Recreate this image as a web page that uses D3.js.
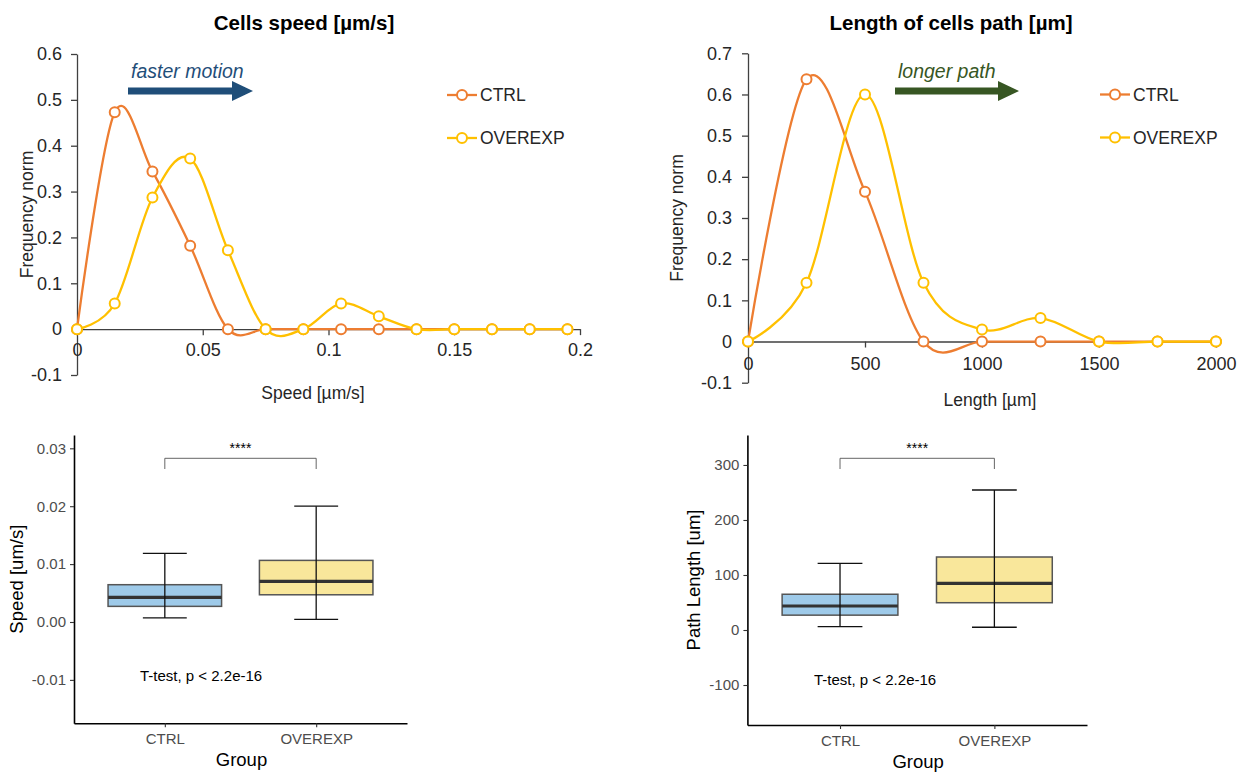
<!DOCTYPE html>
<html>
<head>
<meta charset="utf-8">
<script src="https://cdn.jsdelivr.net/npm/d3@7"></script>
<style>
  body { margin: 0; background: #fff; }
  svg { font-family: "Liberation Sans", Arial, sans-serif; }
</style>
</head>
<body>
<svg id="chart" width="1243" height="772"></svg>
<script>
// histogram bins (frequency normalised)
const speedBins = [0, 0.015, 0.03, 0.045, 0.06, 0.075, 0.09, 0.105, 0.12, 0.135, 0.15, 0.165, 0.18, 0.195];
const speedCtrl = [0, 0.473, 0.344, 0.182, 0, 0, 0, 0, 0, 0, 0, 0, 0, 0];
const speedOverexp = [0, 0.056, 0.287, 0.372, 0.172, 0, 0, 0.056, 0.028, 0, 0, 0, 0, 0];
const speedTicksX = [0, 0.05, 0.1, 0.15, 0.2];
const speedTicksY = [-0.1, 0, 0.1, 0.2, 0.3, 0.4, 0.5, 0.6];

const lengthBins = [0, 250, 500, 750, 1000, 1250, 1500, 1750, 2000];
const lengthCtrl = [0, 0.637, 0.364, 0, 0, 0, 0, 0, 0];
const lengthOverexp = [0, 0.143, 0.600, 0.143, 0.029, 0.057, 0, 0, 0];
const lengthTicksX = [0, 500, 1000, 1500, 2000];
const lengthTicksY = [-0.1, 0, 0.1, 0.2, 0.3, 0.4, 0.5, 0.6, 0.7];

// boxplots: [min, q1, median, q3, max]
const groups = ["CTRL", "OVEREXP"];
const speedBoxCtrl = [0.0007, 0.0027, 0.00425, 0.00644, 0.01185];
const speedBoxOverexp = [0.00045, 0.0047, 0.0070, 0.01064, 0.0200];
const speedBoxTicks = [-0.01, 0, 0.01, 0.02, 0.03];
const lengthBoxCtrl = [6, 27, 43.6, 65, 121];
const lengthBoxOverexp = [5, 49.6, 84.8, 132.7, 254.5];
const lengthBoxTicks = [-100, 0, 100, 200, 300];

const orange = "#ED7D31";
const yellow = "#FFC000";
const boxFill = { CTRL: "#9ECAE9", OVEREXP: "#F9E79B" };

const svg = d3.select("#chart");

function arrowPath(x0, x1, yc) {
  const p = [[x0, yc - 3.5], [x1 - 21, yc - 3.5], [x1 - 21, yc - 10], [x1, yc],
             [x1 - 21, yc + 10], [x1 - 21, yc + 3.5], [x0, yc + 3.5]];
  return "M" + p.map(d => d.join(",")).join("L") + "Z";
}

function densityChart(c) {
  const g = svg.append("g");
  const x = d3.scaleLinear().domain(c.xDomain).range(c.xRange);
  const y = d3.scaleLinear().domain(c.yDomain).range(c.yRange);

  const yAxis = g.append("g")
    .attr("transform", `translate(${c.xRange[0]},0)`)
    .call(d3.axisLeft(y).tickValues(c.yTicks).tickFormat(d => String(d))
      .tickSize(6).tickSizeOuter(0).tickPadding(c.yPad));
  const xAxis = g.append("g")
    .attr("transform", `translate(0,${y(0)})`)
    .call(d3.axisBottom(x).tickValues(c.xTicks).tickFormat(d => String(d))
      .tickSize(6).tickSizeOuter(0).tickPadding(c.xPad));
  [yAxis, xAxis].forEach(a => {
    a.select(".domain").attr("stroke", "#404040").attr("stroke-width", 1.3);
    a.selectAll(".tick line").attr("stroke", "#404040").attr("stroke-width", 1.3);
    a.selectAll("text").attr("font-size", 18).attr("fill", "#262626")
      .attr("font-family", "Liberation Sans, Arial, sans-serif");
  });

  const line = d3.line().x((d, i) => x(c.bins[i])).y(d => y(d)).curve(d3.curveCardinal.tension(0));
  const series = [
    { name: "CTRL", values: c.ctrl, color: orange },
    { name: "OVEREXP", values: c.overexp, color: yellow }
  ];
  series.forEach(s => {
    g.append("path").datum(s.values).attr("d", line)
      .attr("fill", "none").attr("stroke", s.color).attr("stroke-width", 2.3);
    g.selectAll(null).data(s.values).enter().append("circle")
      .attr("cx", (d, i) => x(c.bins[i])).attr("cy", d => y(d)).attr("r", 5)
      .attr("fill", "#fff").attr("stroke", s.color).attr("stroke-width", 2);
  });

  // legend
  series.forEach((s, i) => {
    const ly = c.legendY + i * 43;
    g.append("line").attr("x1", c.legendX).attr("x2", c.legendX + 30)
      .attr("y1", ly).attr("y2", ly).attr("stroke", s.color).attr("stroke-width", 2.3);
    g.append("circle").attr("cx", c.legendX + 15).attr("cy", ly).attr("r", 5)
      .attr("fill", "#fff").attr("stroke", s.color).attr("stroke-width", 2);
    g.append("text").attr("x", c.legendX + 33).attr("y", ly + 6)
      .attr("font-size", 17.5).attr("fill", "#262626").text(s.name);
  });

  // titles
  g.append("text").attr("x", c.titleX).attr("y", 30).attr("text-anchor", "middle")
    .attr("font-size", 20.5).attr("font-weight", "bold").attr("fill", "#000").text(c.title);
  g.append("text").attr("x", c.titleX + c.xLabelDx).attr("y", c.xLabelY).attr("text-anchor", "middle")
    .attr("font-size", 17.5).attr("fill", "#262626").text(c.xLabel);
  g.append("text")
    .attr("transform", `translate(${c.yLabelX},${(c.yRange[0] + c.yRange[1]) / 2}) rotate(-90)`)
    .attr("text-anchor", "middle").attr("font-size", 17.5).attr("fill", "#262626")
    .text("Frequency norm");

  // annotation arrow
  g.append("text").attr("x", c.arrow[0] + 3).attr("y", 78).attr("font-size", 19.5)
    .attr("font-style", "italic").attr("fill", c.arrowColor).text(c.arrowText);
  g.append("path").attr("d", arrowPath(c.arrow[0], c.arrow[1], 91)).attr("fill", c.arrowColor);
}

densityChart({
  bins: speedBins, ctrl: speedCtrl, overexp: speedOverexp,
  xDomain: [0, 0.2], xRange: [77, 580], yDomain: [-0.1, 0.6], yRange: [375, 54],
  xTicks: speedTicksX, yTicks: speedTicksY, xPad: 8, yPad: 9,
  legendX: 447, legendY: 95,
  title: "Cells speed [µm/s]", titleX: 304, xLabel: "Speed [µm/s]", xLabelDx: 9, xLabelY: 399,
  yLabelX: 33, arrow: [128, 253], arrowColor: "#1F4E79", arrowText: "faster motion"
});

densityChart({
  bins: lengthBins, ctrl: lengthCtrl, overexp: lengthOverexp,
  xDomain: [0, 2000], xRange: [748, 1216], yDomain: [-0.1, 0.7], yRange: [382.7, 53.3],
  xTicks: lengthTicksX, yTicks: lengthTicksY, xPad: 10, yPad: 10,
  legendX: 1100, legendY: 94.5,
  title: "Length of cells path [µm]", titleX: 951, xLabel: "Length [µm]", xLabelDx: 39, xLabelY: 406,
  yLabelX: 683, arrow: [895, 1019], arrowColor: "#375623", arrowText: "longer path"
});

const dash = d3.formatLocale({ decimal: ".", thousands: ",", grouping: [3], currency: ["", ""], minus: "-" });

function boxChart(c) {
  const g = svg.append("g");
  const x = d3.scalePoint().domain(groups).range(c.xRange).padding(0.6);
  const y = d3.scaleLinear().domain(c.yDomain).range(c.yRange);
  const step = x.step();

  const yAxis = g.append("g").attr("transform", `translate(${c.xRange[0]},0)`)
    .call(d3.axisLeft(y).tickValues(c.yTicks).tickFormat(dash.format(c.fmt))
      .tickSize(4).tickSizeOuter(0).tickPadding(4));
  const xAxis = g.append("g").attr("transform", `translate(0,${c.yRange[0]})`)
    .call(d3.axisBottom(x).tickSize(4).tickSizeOuter(0).tickPadding(6));
  [yAxis, xAxis].forEach(a => {
    a.select(".domain").attr("stroke", "#000").attr("stroke-width", 1.6);
    a.selectAll(".tick line").attr("stroke", "#333").attr("stroke-width", 1.1);
    a.selectAll("text").attr("font-size", 15).attr("fill", "#4D4D4D")
      .attr("font-family", "Liberation Sans, Arial, sans-serif");
  });

  c.stats.forEach((s, i) => {
    const cx = x(groups[i]);
    const bw = step * 0.75, ew = step * 0.29;
    g.append("rect").attr("x", cx - bw / 2).attr("width", bw)
      .attr("y", y(s[3])).attr("height", y(s[1]) - y(s[3]))
      .attr("fill", boxFill[groups[i]]).attr("stroke", "#555").attr("stroke-width", 1.5);
    g.append("line").attr("x1", cx - bw / 2).attr("x2", cx + bw / 2)
      .attr("y1", y(s[2])).attr("y2", y(s[2])).attr("stroke", "#333").attr("stroke-width", 3.2);
    g.append("line").attr("x1", cx).attr("x2", cx).attr("y1", y(s[0])).attr("y2", y(s[4]))
      .attr("stroke", "#111").attr("stroke-width", 1.3);
    [s[0], s[4]].forEach(v => {
      g.append("line").attr("x1", cx - ew / 2).attr("x2", cx + ew / 2)
        .attr("y1", y(v)).attr("y2", y(v)).attr("stroke", "#111").attr("stroke-width", 1.3);
    });
  });

  // significance bracket
  const x0 = x(groups[0]), x1 = x(groups[1]);
  g.append("path").attr("d", `M${x0},469V458.3H${x1}V469`)
    .attr("fill", "none").attr("stroke", "#555").attr("stroke-width", 0.9);
  g.append("text").attr("x", (x0 + x1) / 2).attr("y", 453).attr("text-anchor", "middle")
    .attr("font-size", 14).attr("fill", "#000").text("****");

  g.append("text").attr("x", c.testX).attr("y", c.testY).attr("font-size", 15)
    .attr("fill", "#000").text("T-test, p < 2.2e-16");
  g.append("text").attr("x", (c.xRange[0] + c.xRange[1]) / 2 + 1).attr("y", c.yRange[0] + 43)
    .attr("text-anchor", "middle").attr("font-size", 18.5).attr("fill", "#000").text("Group");
  g.append("text")
    .attr("transform", `translate(${c.yLabelX},${(c.yRange[0] + c.yRange[1]) / 2}) rotate(-90)`)
    .attr("text-anchor", "middle").attr("font-size", 18.5).attr("fill", "#000").text(c.yLabel);
}

boxChart({
  stats: [speedBoxCtrl, speedBoxOverexp], yTicks: speedBoxTicks, fmt: ".2f",
  xRange: [74, 407], yDomain: [-0.0175, 0.0323], yRange: [723.3, 435],
  testX: 140, testY: 681, yLabelX: 23, yLabel: "Speed [um/s]"
});

boxChart({
  stats: [lengthBoxCtrl, lengthBoxOverexp], yTicks: lengthBoxTicks, fmt: "d",
  xRange: [747.4, 1087], yDomain: [-172.7, 354.5], yRange: [725, 435],
  testX: 814, testY: 685, yLabelX: 700, yLabel: "Path Length [um]"
});
</script>
</body>
</html>
